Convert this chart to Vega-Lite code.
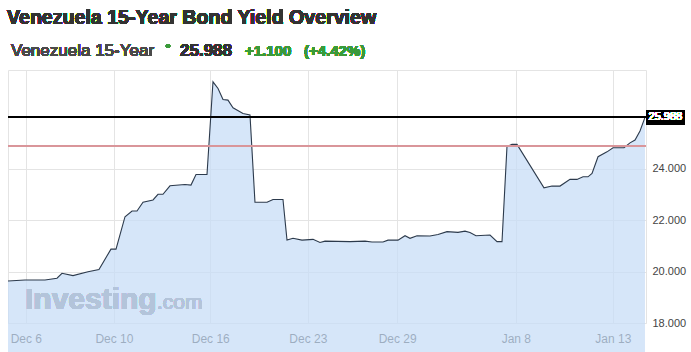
{
  "$schema": "https://vega.github.io/schema/vega-lite/v6.json",
  "width": 638,
  "height": 253,
  "autosize": {"type": "none"},
  "padding": {"left": 8, "top": 70, "right": 45, "bottom": 29},
  "background": "white",
  "config": {
    "view": {"stroke": "#e4e4e4"},
    "font": "Liberation Sans"
  },
  "data": {
    "values": [
      {"t": 0, "yield": 19.63}, {"t": 2.66, "yield": 19.67}, {"t": 5.8, "yield": 19.67}, {"t": 7.68, "yield": 19.74},
      {"t": 8.46, "yield": 19.93}, {"t": 10.19, "yield": 19.84}, {"t": 12.54, "yield": 19.99}, {"t": 14.26, "yield": 20.08},
      {"t": 16.14, "yield": 20.87}, {"t": 16.93, "yield": 20.87}, {"t": 18.34, "yield": 22.13}, {"t": 19.44, "yield": 22.35},
      {"t": 20.22, "yield": 22.35}, {"t": 21.16, "yield": 22.69}, {"t": 22.73, "yield": 22.78}, {"t": 23.51, "yield": 23.0},
      {"t": 24.29, "yield": 23.0}, {"t": 25.39, "yield": 23.33}, {"t": 27.74, "yield": 23.38}, {"t": 28.68, "yield": 23.36},
      {"t": 29.47, "yield": 23.77}, {"t": 31.19, "yield": 23.77}, {"t": 32.13, "yield": 27.37}, {"t": 32.92, "yield": 27.11},
      {"t": 33.7, "yield": 26.68}, {"t": 34.48, "yield": 26.66}, {"t": 35.27, "yield": 26.36}, {"t": 36.83, "yield": 26.14},
      {"t": 37.93, "yield": 26.08}, {"t": 38.71, "yield": 22.69}, {"t": 40.6, "yield": 22.69}, {"t": 41.54, "yield": 22.8},
      {"t": 43.1, "yield": 22.8}, {"t": 43.73, "yield": 21.22}, {"t": 44.67, "yield": 21.29}, {"t": 46.08, "yield": 21.22},
      {"t": 47.81, "yield": 21.25}, {"t": 48.9, "yield": 21.13}, {"t": 49.69, "yield": 21.18}, {"t": 53.61, "yield": 21.16},
      {"t": 55.96, "yield": 21.18}, {"t": 57.05, "yield": 21.15}, {"t": 58.78, "yield": 21.15}, {"t": 59.56, "yield": 21.22},
      {"t": 61.13, "yield": 21.22}, {"t": 62.23, "yield": 21.39}, {"t": 63.01, "yield": 21.29}, {"t": 64.11, "yield": 21.39},
      {"t": 66.14, "yield": 21.38}, {"t": 67.4, "yield": 21.44}, {"t": 68.81, "yield": 21.55}, {"t": 70.53, "yield": 21.52},
      {"t": 71.63, "yield": 21.57}, {"t": 72.41, "yield": 21.52}, {"t": 73.35, "yield": 21.39}, {"t": 75.55, "yield": 21.42},
      {"t": 76.65, "yield": 21.16}, {"t": 77.43, "yield": 21.16}, {"t": 78.21, "yield": 24.85}, {"t": 79.0, "yield": 24.94},
      {"t": 79.78, "yield": 24.94}, {"t": 84.01, "yield": 23.25}, {"t": 85.27, "yield": 23.32}, {"t": 86.52, "yield": 23.32},
      {"t": 88.09, "yield": 23.58}, {"t": 89.18, "yield": 23.58}, {"t": 90.13, "yield": 23.68}, {"t": 90.91, "yield": 23.68},
      {"t": 91.54, "yield": 23.81}, {"t": 92.48, "yield": 24.46}, {"t": 93.89, "yield": 24.65}, {"t": 94.83, "yield": 24.81},
      {"t": 96.55, "yield": 24.81}, {"t": 97.49, "yield": 25.0}, {"t": 98.28, "yield": 25.11}, {"t": 99.06, "yield": 25.46},
      {"t": 99.84, "yield": 25.988}
    ]
  },
  "layer": [
    {
      "mark": {"type": "area", "color": "#c6dcf7", "fillOpacity": 0.72},
      "encoding": {
        "x": {
          "field": "t", "type": "quantitative",
          "scale": {"domain": [0, 100], "nice": false, "zero": false},
          "axis": {
            "orient": "bottom",
            "values": [2.8, 16.6, 31.7, 47.0, 61.0, 79.6, 94.8],
            "labelExpr": "datum.value == 2.8 ? 'Dec 6' : datum.value == 16.6 ? 'Dec 10' : datum.value == 31.7 ? 'Dec 16' : datum.value == 47 ? 'Dec 23' : datum.value == 61 ? 'Dec 29' : datum.value == 79.6 ? 'Jan 8' : 'Jan 13'",
            "title": null,
            "grid": true,
            "gridColor": "#e4e4e4",
            "domain": false,
            "ticks": false,
            "labelPadding": 10,
            "labelFlush": false,
            "labelFont": "Liberation Sans",
            "labelFontSize": 12,
            "labelColor": "#333333"
          }
        },
        "y": {
          "field": "yield", "type": "quantitative",
          "scale": {"domain": [18, 27.83], "nice": false, "zero": false},
          "axis": {
            "orient": "right",
            "values": [18, 20, 22, 24],
            "format": ".3f",
            "title": null,
            "grid": true,
            "gridColor": "#e4e4e4",
            "domain": false,
            "ticks": false,
            "labelPadding": 6,
            "labelFlush": false,
            "labelFont": "Liberation Sans",
            "labelFontSize": 11,
            "labelColor": "#444444"
          }
        }
      }
    },
    {
      "mark": {"type": "text", "text": "Investing", "font": "Liberation Sans", "fontWeight": "bold", "fontSize": 30, "align": "left", "baseline": "alphabetic", "color": "#b3c4da"},
      "encoding": {"x": {"value": 17}, "y": {"value": 239}}
    },
    {
      "mark": {"type": "text", "text": ".com", "font": "Liberation Sans", "fontSize": 21, "align": "left", "baseline": "alphabetic", "color": "#b3c4da"},
      "encoding": {"x": {"value": 149}, "y": {"value": 239}}
    },
    {
      "mark": {"type": "line", "color": "#2c3a4c", "strokeWidth": 1.1},
      "encoding": {
        "x": {"field": "t", "type": "quantitative"},
        "y": {"field": "yield", "type": "quantitative"}
      }
    },
    {
      "mark": {"type": "rule", "color": "#d9959a", "strokeWidth": 1.6},
      "encoding": {"y": {"datum": 24.888, "type": "quantitative"}}
    },
    {
      "mark": {"type": "rule", "color": "#000000", "strokeWidth": 1},
      "encoding": {"y": {"datum": 25.988, "type": "quantitative"}}
    },
    {
      "mark": {"type": "rule", "color": "#000000", "strokeWidth": 15},
      "encoding": {
        "x": {"datum": 100.1, "type": "quantitative"},
        "x2": {"datum": 106.0},
        "y": {"datum": 25.988, "type": "quantitative"}
      }
    },
    {
      "mark": {"type": "text", "text": "25.988", "font": "Liberation Sans", "fontSize": 11, "align": "left", "baseline": "middle", "color": "#ffffff"},
      "encoding": {
        "x": {"datum": 100.4, "type": "quantitative"},
        "y": {"datum": 25.988, "type": "quantitative"}
      }
    },
    {
      "mark": {"type": "text", "text": "Venezuela 15-Year Bond Yield Overview", "font": "Liberation Sans", "fontSize": 19.6, "fontWeight": "bold", "align": "left", "baseline": "alphabetic", "color": "#333333"},
      "encoding": {"x": {"value": -1}, "y": {"value": -46}}
    },
    {
      "mark": {"type": "text", "text": "Venezuela 15-Year", "font": "Liberation Sans", "fontSize": 17, "align": "left", "baseline": "alphabetic", "color": "#4a4a4a"},
      "encoding": {"x": {"value": 3}, "y": {"value": -14}}
    },
    {
      "mark": {"type": "point", "shape": "circle", "filled": true, "size": 18, "color": "#3a9a3a", "opacity": 1},
      "encoding": {"x": {"value": 160}, "y": {"value": -24}}
    },
    {
      "mark": {"type": "text", "text": "25.988", "font": "Liberation Sans", "fontSize": 17, "fontWeight": "bold", "align": "left", "baseline": "alphabetic", "color": "#333333"},
      "encoding": {"x": {"value": 172}, "y": {"value": -14}}
    },
    {
      "mark": {"type": "text", "text": "+1.100", "font": "Liberation Sans", "fontSize": 15, "fontWeight": "bold", "align": "left", "baseline": "alphabetic", "color": "#3a9a3a"},
      "encoding": {"x": {"value": 237}, "y": {"value": -14}}
    },
    {
      "mark": {"type": "text", "text": "(+4.42%)", "font": "Liberation Sans", "fontSize": 15, "fontWeight": "bold", "align": "left", "baseline": "alphabetic", "color": "#3a9a3a"},
      "encoding": {"x": {"value": 296}, "y": {"value": -14}}
    }
  ]
}
